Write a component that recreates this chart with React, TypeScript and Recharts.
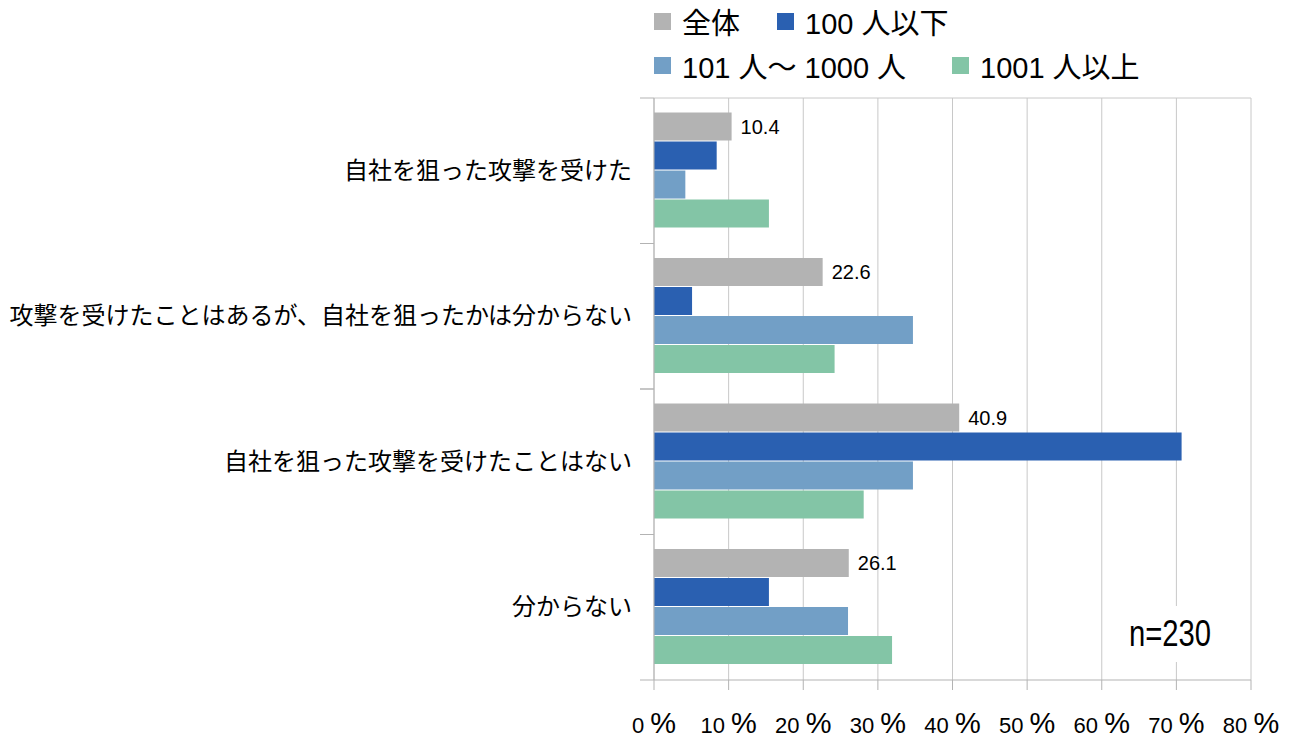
import { BarChart, Bar, XAxis, YAxis, CartesianGrid, LabelList } from "recharts";

// Categories (answers) and the share of each company-size group, in %.
const categories = [
  "自社を狙った攻撃を受けた",
  "攻撃を受けたことはあるが、自社を狙ったかは分からない",
  "自社を狙った攻撃を受けたことはない",
  "分からない",
];
const overall = [10.4, 22.6, 40.9, 26.1];
const upTo100 = [8.4, 5.1, 70.7, 15.4];
const from101To1000 = [4.2, 34.7, 34.7, 26.0];
const over1001 = [15.4, 24.2, 28.1, 31.9];
const xTicks = [0, 10, 20, 30, 40, 50, 60, 70, 80];

const seriesDefs = [
  { key: "all", name: "全体", color: "#b3b3b3", values: overall },
  { key: "small", name: "100 人以下", color: "#2a60b1", values: upTo100 },
  { key: "mid", name: "101 人〜 1000 人", color: "#729fc6", values: from101To1000 },
  { key: "large", name: "1001 人以上", color: "#83c5a6", values: over1001 },
];

const data = categories.map((name, i) => {
  const row: Record<string, string | number> = { name };
  seriesDefs.forEach((s) => (row[s.key] = s.values[i]));
  return row;
});

const FONT = "'Liberation Sans', 'Noto Sans CJK JP', sans-serif";
const JP = "'Noto Sans CJK JP', sans-serif";
const AXIS = "#b3b3b3";
const BAND = (680 - 98) / categories.length;

function CategoryTick(props: { y?: number; payload?: { value: string } }) {
  const y = Number(props.y);
  return (
    <g>
      <line x1={640} x2={654} y1={y - BAND / 2} y2={y - BAND / 2} stroke={AXIS} />
      <line x1={640} x2={654} y1={y + BAND / 2} y2={y + BAND / 2} stroke={AXIS} />
      <text x={632} y={y} dy={8} textAnchor="end" fontSize={24} fontFamily={JP} fill="#000">
        {props.payload?.value}
      </text>
    </g>
  );
}

function PercentTick(props: { x?: number; y?: number; payload?: { value: number } }) {
  return (
    <text x={Number(props.x)} y={733} textAnchor="middle" fontFamily={FONT} fill="#000">
      <tspan fontSize={22}>{props.payload?.value} </tspan>
      <tspan fontSize={29}>%</tspan>
    </text>
  );
}

const legendRows = [
  [
    { s: seriesDefs[0], x: 654 },
    { s: seriesDefs[1], x: 777 },
  ],
  [
    { s: seriesDefs[2], x: 654 },
    { s: seriesDefs[3], x: 952 },
  ],
];

export default function App() {
  return (
    <div style={{ position: "absolute", left: 0, top: 0, width: 1307, height: 747, background: "#fff" }}>
      <BarChart
        width={1307}
        height={747}
        data={data}
        layout="vertical"
        margin={{ top: 98, right: 56, bottom: 0, left: 0 }}
        barCategoryGap="10%"
        barGap={1}
      >
        <CartesianGrid stroke="#c8c8c8" horizontalPoints={[98]} />
        <XAxis
          type="number"
          domain={[0, 80]}
          ticks={xTicks}
          height={67}
          stroke={AXIS}
          tickSize={10}
          tick={<PercentTick />}
        />
        <YAxis
          type="category"
          dataKey="name"
          width={654}
          stroke={AXIS}
          tickLine={false}
          tick={<CategoryTick />}
        />
        {seriesDefs.map((s) => (
          <Bar key={s.key} dataKey={s.key} name={s.name} fill={s.color} isAnimationActive={false}>
            {s.key === "all" && (
              <LabelList dataKey="all" position="right" offset={9} fontSize={20} fontFamily={FONT} fill="#000" />
            )}
          </Bar>
        ))}
      </BarChart>

      {legendRows.map((row, r) => (
        <div key={r}>
          {row.map(({ s, x }) => (
            <div
              key={s.key}
              style={{
                position: "absolute",
                left: x,
                top: 4 + r * 44,
                height: 34,
                display: "flex",
                alignItems: "center",
                fontFamily: FONT,
                fontSize: 29,
                whiteSpace: "nowrap",
                color: "#000",
              }}
            >
              <span style={{ display: "inline-block", width: 17, height: 17, background: s.color, marginRight: 11 }} />
              {s.name}
            </div>
          ))}
        </div>
      ))}

      <div
        style={{
          position: "absolute",
          left: 1115,
          top: 606,
          width: 110,
          height: 56,
          background: "#fff",
          display: "flex",
          alignItems: "center",
          justifyContent: "center",
          fontFamily: FONT,
          fontSize: 37,
          color: "#000",
        }}
      >
        <span style={{ display: "inline-block", transform: "scaleX(0.79)" }}>n=230</span>
      </div>
    </div>
  );
}
